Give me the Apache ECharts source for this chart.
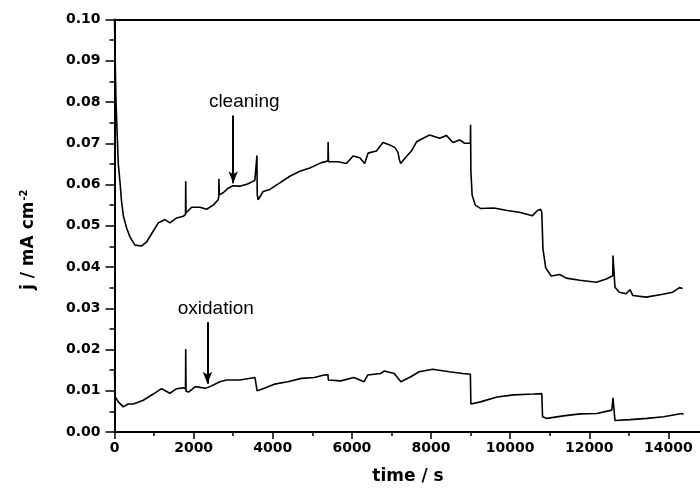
<!DOCTYPE html>
<html><head><meta charset="utf-8">
<script src="https://cdn.jsdelivr.net/npm/echarts@6/dist/echarts.min.js"></script>
<style>html,body{margin:0;padding:0;background:#fff}#c{width:700px;height:489px}</style>
</head><body><div id="c"></div><script>
const cleaningTime = [
  0, 18, 38, 55, 76, 96, 139, 177, 222, 308,
  391, 518, 687, 813, 896, 1106, 1275, 1401, 1571, 1737,
  1795, 1800, 1808, 1838, 1949, 2159, 2328, 2495, 2621, 2635,
  2640, 2648, 2747, 2873, 2992, 3169, 3378, 3548, 3595, 3600,
  3608, 3631, 3757, 3926, 4179, 4431, 4684, 4936, 5232, 5395,
  5400, 5408, 5651, 5863, 6030, 6199, 6325, 6408, 6620, 6787,
  6956, 7083, 7166, 7200, 7234, 7335, 7504, 7631, 7714, 7966,
  8219, 8388, 8555, 8724, 8850, 8995, 9000, 9008, 9040, 9120,
  9250, 9590, 9930, 10260, 10560, 10690, 10770, 10800, 10830, 10900,
  11040, 11250, 11420, 11760, 12180, 12430, 12595, 12600, 12650, 12760,
  12930, 13030, 13100, 13440, 13860, 14110, 14280, 14360
];
const cleaningJ = [
  0.100, 0.090, 0.080, 0.0755, 0.070, 0.065, 0.0606, 0.056, 0.0525, 0.0494,
  0.0473, 0.0453, 0.0451, 0.0461, 0.0474, 0.0507, 0.0515, 0.0507, 0.0519, 0.0523,
  0.0527, 0.0608, 0.0531, 0.0533, 0.0545, 0.0545, 0.0540, 0.0550, 0.0563, 0.0570,
  0.0614, 0.0575, 0.0580, 0.0591, 0.0597, 0.0596, 0.0602, 0.0610, 0.0612, 0.0670,
  0.0575, 0.0563, 0.0583, 0.0588, 0.0604, 0.0620, 0.0632, 0.0640, 0.0653, 0.0657,
  0.0703, 0.0655, 0.0655, 0.0651, 0.0669, 0.0665, 0.0651, 0.0676, 0.0681, 0.0702,
  0.0696, 0.0690, 0.0678, 0.0660, 0.0651, 0.0663, 0.0681, 0.0703, 0.0708, 0.0720,
  0.0712, 0.0719, 0.0702, 0.0708, 0.0700, 0.0700, 0.0745, 0.0631, 0.0574, 0.0550,
  0.0542, 0.0543, 0.0537, 0.0532, 0.0524, 0.0537, 0.0540, 0.0533, 0.0444, 0.0398,
  0.0378, 0.0382, 0.0373, 0.0368, 0.0363, 0.0371, 0.0379, 0.0428, 0.0351, 0.0339,
  0.0335, 0.0345, 0.0331, 0.0327, 0.0334, 0.0339, 0.0350, 0.0348
];
const oxidationTime = [
  0, 20, 96, 222, 348, 475, 727, 980, 1190, 1400,
  1570, 1740, 1795, 1800, 1808, 1880, 2045, 2300, 2411, 2664,
  2830, 3170, 3550, 3598, 3605, 3790, 4040, 4380, 4720, 5050,
  5300, 5395, 5405, 5720, 6050, 6310, 6400, 6730, 6820, 7070,
  7240, 7490, 7700, 8040, 8460, 8800, 8995, 9008, 9250, 9670,
  10090, 10590, 10800, 10820, 10930, 11350, 11770, 12190, 12570, 12600,
  12650, 13030, 13460, 13880, 14340, 14380
];
const oxidationJ = [
  0.0146, 0.0085, 0.0073, 0.0061, 0.0068, 0.0068, 0.0077, 0.0092, 0.0105, 0.0094,
  0.0105, 0.0107, 0.0105, 0.0201, 0.0099, 0.0097, 0.0110, 0.0106, 0.0110, 0.0122,
  0.0126, 0.0126, 0.0132, 0.0133, 0.0100, 0.0106, 0.0116, 0.0122, 0.0130, 0.0132,
  0.0138, 0.0139, 0.0126, 0.0124, 0.0132, 0.0122, 0.0138, 0.0142, 0.0148, 0.0142,
  0.0122, 0.0134, 0.0146, 0.0152, 0.0146, 0.0142, 0.0140, 0.0068, 0.0073, 0.0085,
  0.0090, 0.0092, 0.0093, 0.0037, 0.0033, 0.0039, 0.0044, 0.0045, 0.0053, 0.0083,
  0.0028, 0.0030, 0.0033, 0.0037, 0.0045, 0.0042
];
// annotations: [label, text x, text y, arrow x, arrow top y, arrow tip y]
const cleaningNote = ['cleaning', 3280, 0.0800, 3000, 0.0767, 0.0603];
const oxidationNote = ['oxidation', 2560, 0.0298, 2350, 0.0266, 0.0117];

const xMin = 0, xMax = 16000, xStep = 2000;
const yMin = 0, yMax = 0.10, yStep = 0.01;

const pair = (xs, ys) => xs.map((x, i) => [x, ys[i]]);
const tickFont = {fontFamily: 'DejaVu Sans', fontWeight: 'bold', fontSize: 14, color: '#000'};
const noteFont = {fontFamily: 'Liberation Sans', fontSize: 19, color: '#000'};

function note(n) {
  return {
    markPoint: {
      symbol: 'circle', symbolSize: 1, silent: true, animation: false,
      itemStyle: {color: 'rgba(0,0,0,0)'},
      label: Object.assign({show: true, position: 'inside', formatter: n[0]}, noteFont),
      data: [{coord: [n[1], n[2]]}]
    },
    markLine: {
      silent: true, animation: false,
      symbol: ['none', 'arrow'], symbolSize: [7, 12],
      lineStyle: {color: '#000', width: 2, type: 'solid'},
      label: {show: false},
      data: [[{coord: [n[3], n[4]]}, {coord: [n[3], n[5]]}]]
    }
  };
}

const chart = echarts.init(document.getElementById('c'), null, {renderer: 'canvas'});
chart.setOption({
  animation: false,
  backgroundColor: '#fff',
  grid: {left: 114.5, top: 19.5, width: 633, height: 412.5, containLabel: false, outerBoundsMode: 'none'},
  xAxis: [{
    type: 'value', min: xMin, max: xMax, interval: xStep,
    name: 'time / s', nameLocation: 'middle', nameGap: 36,
    nameTextStyle: {fontFamily: 'DejaVu Sans', fontWeight: 'bold', fontSize: 17, color: '#000', padding: [0, 46, 0, 0]},
    axisLine: {show: true, onZero: false, lineStyle: {color: '#000', width: 2}},
    axisTick: {show: true, inside: false, length: 7, lineStyle: {color: '#000', width: 1.5}},
    minorTick: {show: true, splitNumber: 2, length: 4, lineStyle: {color: '#000', width: 1.5}},
    axisLabel: Object.assign({margin: 9, showMaxLabel: false, formatter: v => String(v)}, tickFont),
    splitLine: {show: false}
  }, {
    type: 'value', min: xMin, max: xMax, position: 'top',
    axisLine: {show: true, onZero: false, lineStyle: {color: '#000', width: 2}},
    axisTick: {show: false}, axisLabel: {show: false}, splitLine: {show: false}
  }],
  yAxis: {
    type: 'value', min: yMin, max: yMax, interval: yStep,
    name: '{a|j / mA cm}{b|-2}', nameLocation: 'middle', nameRotate: 90, nameGap: 76,
    nameTextStyle: {
      padding: [0, 28, 0, 0],
      rich: {
        a: {fontFamily: 'DejaVu Sans', fontWeight: 'bold', fontSize: 17, color: '#000'},
        b: {fontFamily: 'DejaVu Sans', fontWeight: 'bold', fontSize: 10, color: '#000', verticalAlign: 'top', padding: [0, 0, 9, 1]}
      }
    },
    axisLine: {show: true, onZero: false, lineStyle: {color: '#000', width: 2}},
    axisTick: {show: true, inside: false, length: 9, lineStyle: {color: '#000', width: 1.5}},
    minorTick: {show: true, splitNumber: 2, length: 5, lineStyle: {color: '#000', width: 1.5}},
    axisLabel: Object.assign({margin: 14, formatter: v => v.toFixed(2)}, tickFont),
    splitLine: {show: false}
  },
  series: [
    Object.assign({
      name: 'cleaning', type: 'line', data: pair(cleaningTime, cleaningJ),
      showSymbol: false, symbol: 'none', clip: true,
      lineStyle: {color: '#000', width: 1.6}
    }, note(cleaningNote)),
    Object.assign({
      name: 'oxidation', type: 'line', data: pair(oxidationTime, oxidationJ),
      showSymbol: false, symbol: 'none', clip: true,
      lineStyle: {color: '#000', width: 1.6}
    }, note(oxidationNote))
  ]
});
</script></body></html>
